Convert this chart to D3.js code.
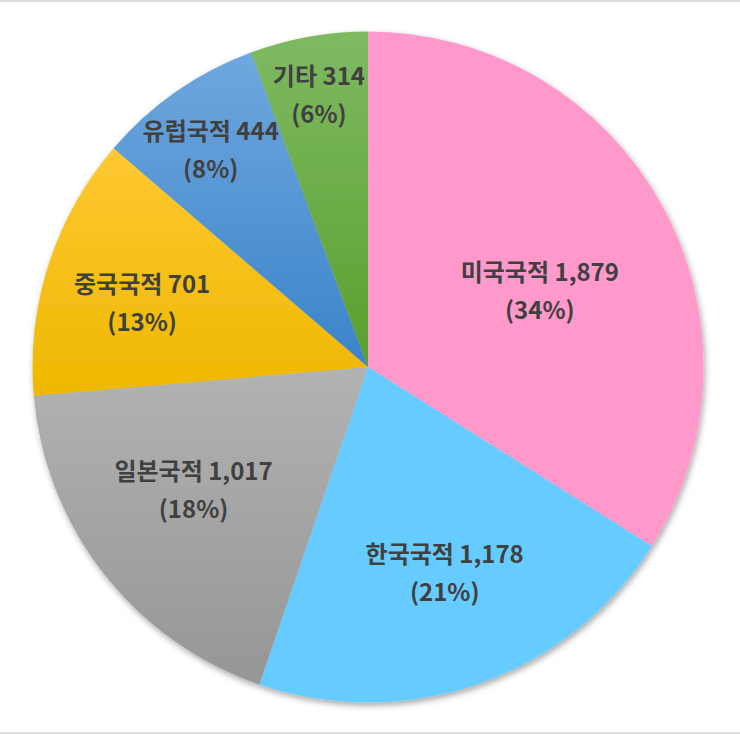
<!DOCTYPE html>
<html>
<head>
<meta charset="utf-8">
<script src="https://cdn.jsdelivr.net/npm/d3@7"></script>
<style>
  html, body { margin: 0; padding: 0; background: #ffffff; }
  svg { display: block; }
</style>
</head>
<body>
<svg id="chart" width="740" height="734"></svg>
<script>
// ---- data ----
const categories = ["미국국적", "한국국적", "일본국적", "중국국적", "유럽국적", "기타"];
const values = [1879, 1178, 1017, 701, 444, 314];
const percentLabels = ["34%", "21%", "18%", "13%", "8%", "6%"];

// ---- styles / layout (not data) ----
const fillTop    = ["#FF99CC", "#66CCFF", "#B2B2B2", "#FFC832", "#6FA7DE", "#7EBA62"];
const fillBottom = ["#FF99CC", "#66CCFF", "#969696", "#EDB800", "#3A84CA", "#5B9F2E"];
const labelRadiusFrac = [0.56, 0.655, 0.635, 0.70, 0.80, 0.825];
const labelAngleNudge = [5, -1, 3, -2, -1, 0]; // degrees

const W = 740, H = 734;
const cx = 368, cy = 367, R = 335.5;

const svg = d3.select("#chart");
const defs = svg.append("defs");

// frame lines
svg.append("rect").attr("x", 0).attr("y", 0).attr("width", W).attr("height", 2).attr("fill", "#dedede");
svg.append("rect").attr("x", 0).attr("y", H - 2).attr("width", W).attr("height", 2).attr("fill", "#dedede");

const filter = defs.append("filter").attr("id", "shadow")
  .attr("x", "-10%").attr("y", "-10%").attr("width", "120%").attr("height", "120%");
filter.append("feDropShadow").attr("dx", 1.5).attr("dy", 3).attr("stdDeviation", 3)
  .attr("flood-color", "#000").attr("flood-opacity", 0.35);

categories.forEach((c, i) => {
  const g = defs.append("linearGradient").attr("id", "grad" + i)
    .attr("x1", 0).attr("y1", 0).attr("x2", 0).attr("y2", 1);
  g.append("stop").attr("offset", "0%").attr("stop-color", fillTop[i]);
  g.append("stop").attr("offset", "100%").attr("stop-color", fillBottom[i]);
});

const pie = d3.pie().sort(null).value(d => d)
  .startAngle(0).endAngle(2 * Math.PI);
const arcs = pie(values);
const arc = d3.arc().innerRadius(0).outerRadius(R);

const gPie = svg.append("g").attr("transform", `translate(${cx},${cy})`);

gPie.append("g").attr("filter", "url(#shadow)")
  .selectAll("path")
  .data(arcs)
  .join("path")
  .attr("d", arc)
  .attr("fill", (d, i) => `url(#grad${i})`);

const fmt = d3.format(",");
const gLab = gPie.append("g")
  .attr("font-family", "'Noto Sans CJK KR', 'Noto Sans', sans-serif")
  .attr("font-weight", 700)
  .attr("font-size", 24)
  .attr("fill", "#404040")
  .attr("text-anchor", "middle");

arcs.forEach((d, i) => {
  const a = (d.startAngle + d.endAngle) / 2 + labelAngleNudge[i] * Math.PI / 180;
  const r = R * labelRadiusFrac[i];
  const x = r * Math.sin(a), y = -r * Math.cos(a);
  const t = gLab.append("text").attr("transform", `translate(${x},${y})`);
  t.append("tspan").attr("x", 0).attr("y", -20).attr("dominant-baseline", "central")
    .text(`${categories[i]} ${fmt(values[i])}`);
  t.append("tspan").attr("x", 0).attr("y", 18).attr("dominant-baseline", "central")
    .text(`(${percentLabels[i]})`);
});
</script>
</body>
</html>
